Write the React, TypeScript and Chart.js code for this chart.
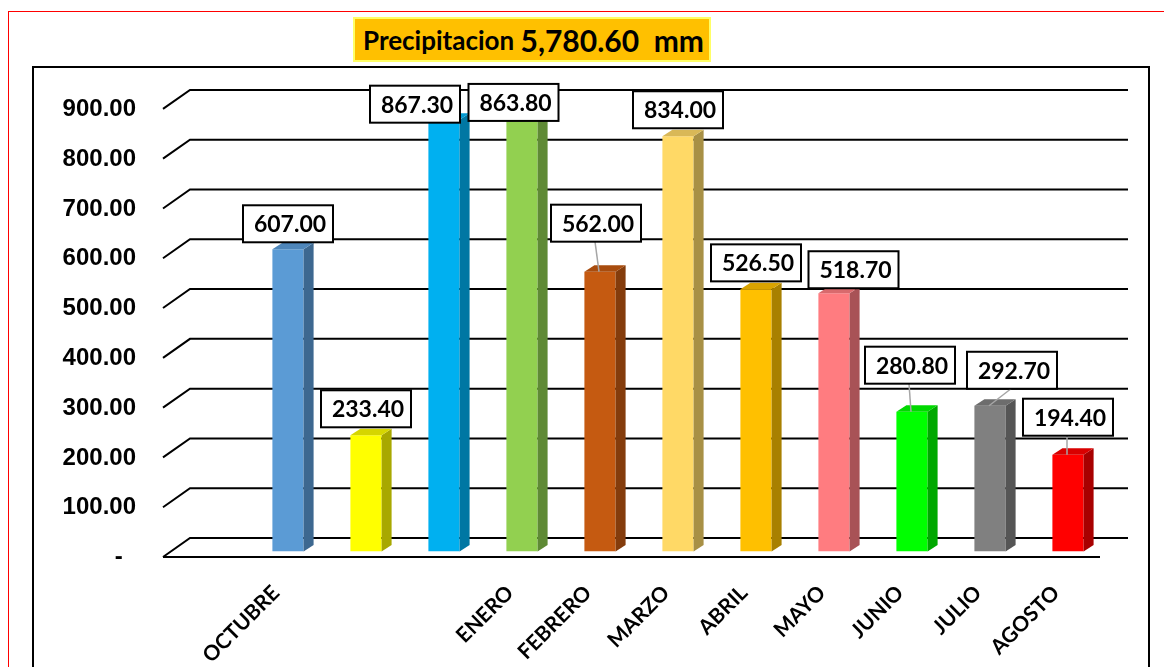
import React, { useEffect, useRef } from "react";
import { Chart, registerables } from "chart.js";

Chart.register(...registerables);

// ---------- data ----------
const categories: string[] = ["", "OCTUBRE", "", "", "ENERO", "FEBRERO", "MARZO", "ABRIL", "MAYO", "JUNIO", "JULIO", "AGOSTO"];
const precipitation: (number | null)[] = [null, 607.0, 233.4, 867.3, 863.8, 562.0, 834.0, 526.5, 518.7, 280.8, 292.7, 194.4];
const yMin = 0;
const yMax = 900;
const yStep = 100;
const titleLabel = "Precipitacion ";
const titleTotal = "5,780.60  mm";

// ---------- styles ----------
const frontColors = ["#000000", "#5B9BD5", "#FFFF00", "#00B0F0", "#92D050", "#C55A11", "#FFD966", "#FFC000", "#FF7C80", "#00FF00", "#808080", "#FF0000"];
const sideColors = ["#000000", "#3D6890", "#A8A800", "#0077A3", "#5F8A35", "#843C0C", "#A89045", "#A88000", "#A85256", "#00A800", "#555555", "#A80000"];
const topColors = ["#000000", "#4E86BA", "#D6D600", "#0098D0", "#7DB545", "#A84C0E", "#D9B857", "#D9A300", "#D96A6D", "#00D900", "#6D6D6D", "#D90000"];
// data-label box placement relative to each bar top (px)
const labelShiftX = [0, 0, 0, -29, -8.5, -4, 0, 0, 19.5, -2, 22, 0];
const labelGap = [0, 7, 8, -3, 0.5, 30, 8, 8, 5, 28, 17, 19];

const DEPTH_X = 10;
const DEPTH_Y = 6.5;

const fmt = (v: number) =>
  v.toLocaleString("en-US", { minimumFractionDigits: 2, maximumFractionDigits: 2 });

const gridPlugin = {
  id: "grid3d",
  beforeDatasetsDraw(chart: any) {
    const { ctx, chartArea } = chart;
    const ys = chart.scales.y;
    const lx = chartArea.left;
    const rx = chartArea.right;
    ctx.save();
    ctx.strokeStyle = "#000";
    ctx.lineWidth = 2;
    ys.ticks.forEach((t: any) => {
      const py = ys.getPixelForValue(t.value);
      const back = py - 13.5;
      const front = py + 5.5;
      ctx.beginPath();
      ctx.moveTo(lx - 8, front);
      ctx.lineTo(lx + 19, back);
      ctx.lineTo(rx + 21, back);
      ctx.stroke();
      if (t.value === 0) {
        ctx.beginPath();
        ctx.moveTo(lx - 8, front);
        ctx.lineTo(rx - 7, front);
        ctx.stroke();
      }
    });
    ctx.restore();
  },
};

const barFacesPlugin = {
  id: "bar3d",
  afterDatasetsDraw(chart: any) {
    const { ctx } = chart;
    const meta = chart.getDatasetMeta(0);
    ctx.save();
    meta.data.forEach((el: any, i: number) => {
      if (precipitation[i] == null) return;
      const half = el.width / 2;
      const xl = el.x - half;
      const xr = el.x + half;
      const top = el.y;
      const bot = el.base;
      ctx.fillStyle = sideColors[i];
      ctx.beginPath();
      ctx.moveTo(xr, top);
      ctx.lineTo(xr + DEPTH_X, top - DEPTH_Y);
      ctx.lineTo(xr + DEPTH_X, bot - DEPTH_Y);
      ctx.lineTo(xr, bot);
      ctx.closePath();
      ctx.fill();
      ctx.fillStyle = topColors[i];
      ctx.beginPath();
      ctx.moveTo(xl, top);
      ctx.lineTo(xr, top);
      ctx.lineTo(xr + DEPTH_X, top - DEPTH_Y);
      ctx.lineTo(xl + DEPTH_X, top - DEPTH_Y);
      ctx.closePath();
      ctx.fill();
    });
    meta.data.forEach((el: any, i: number) => {
      const v = precipitation[i];
      if (v == null) return;
      const w = 90;
      const h = 37;
      const cx = el.x + labelShiftX[i];
      const bb = el.y - labelGap[i];
      if (labelGap[i] > 12) {
        ctx.strokeStyle = "#A6A6A6";
        ctx.lineWidth = 1.5;
        ctx.beginPath();
        ctx.moveTo(cx - 1, bb);
        ctx.lineTo(el.x - 1, el.y);
        ctx.stroke();
      }
      ctx.fillStyle = "#FFFFFF";
      ctx.fillRect(cx - w / 2, bb - h, w, h);
      ctx.strokeStyle = "#000";
      ctx.lineWidth = 2;
      ctx.strokeRect(cx - w / 2, bb - h, w, h);
      ctx.fillStyle = "#000";
      ctx.font = "bold 23px Lato";
      ctx.textAlign = "center";
      ctx.textBaseline = "middle";
      ctx.fillText(fmt(v), cx + 2, bb - h / 2 + 1);
    });
    ctx.restore();
  },
};

export default function App() {
  const canvasRef = useRef<HTMLCanvasElement | null>(null);

  useEffect(() => {
    if (!canvasRef.current) return;
    const chart = new Chart(canvasRef.current, {
      type: "bar",
      data: {
        labels: categories,
        datasets: [
          {
            data: precipitation as any,
            backgroundColor: frontColors,
            borderWidth: 0,
            categoryPercentage: 1,
            barPercentage: 0.4,
          },
        ],
      },
      options: {
        animation: false,
        responsive: false,
        maintainAspectRatio: false,
        layout: { padding: { left: 0, top: 103.4, right: 57, bottom: 0 } },
        plugins: {
          legend: { display: false },
          title: { display: false },
          tooltip: { enabled: false },
        },
        scales: {
          x: {
            grid: { display: false, drawTicks: false },
            border: { display: false },
            ticks: {
              autoSkip: false,
              maxRotation: 45,
              minRotation: 45,
              padding: 29,
              labelOffset: -12,
              color: "#000",
              font: { family: "Lato", size: 21, weight: "bold" },
            },
            afterFit: (axis: any) => {
              axis.height = 115.5;
            },
          },
          y: {
            min: yMin,
            max: yMax,
            grid: { display: false, drawTicks: false },
            border: { display: false },
            ticks: {
              stepSize: yStep,
              padding: 35,
              labelOffset: 6,
              color: "#000",
              font: { family: "'Liberation Sans', Arial", size: 24, weight: "bold" },
              callback: (v: any) => (Number(v) === 0 ? "-  " : fmt(Number(v))),
            },
            afterFit: (axis: any) => {
              axis.width = 171;
            },
          },
        },
      },
      plugins: [gridPlugin, barFacesPlugin],
    });
    return () => chart.destroy();
  }, []);

  return (
    <div
      style={{
        position: "fixed",
        left: 0,
        top: 0,
        width: 1164,
        height: 667,
        overflow: "hidden",
        background: "#fff",
      }}
    >
      <div
        style={{
          position: "absolute",
          left: 8,
          top: 11,
          width: 1200,
          height: 700,
          border: "1px solid #FF0000",
        }}
      />
      <div
        style={{
          position: "absolute",
          left: 32,
          top: 66,
          width: 1118,
          height: 700,
          border: "2px solid #000",
          boxSizing: "border-box",
        }}
      />
      <div
        style={{
          position: "absolute",
          left: 353,
          top: 17,
          width: 358,
          height: 45,
          boxSizing: "border-box",
          background: "#FFC000",
          border: "2px solid #FFFF66",
          fontFamily: "Lato",
          fontWeight: "bold",
          color: "#000",
          display: "flex",
          alignItems: "center",
          paddingLeft: 8,
          whiteSpace: "pre",
        }}
      >
        <span style={{ fontSize: 26 }}>{titleLabel}</span>
        <span style={{ fontSize: 30 }}>{titleTotal}</span>
      </div>
      <canvas
        ref={canvasRef}
        width={1164}
        height={667}
        style={{ position: "absolute", left: 0, top: 0, width: 1164, height: 667 }}
      />
    </div>
  );
}
